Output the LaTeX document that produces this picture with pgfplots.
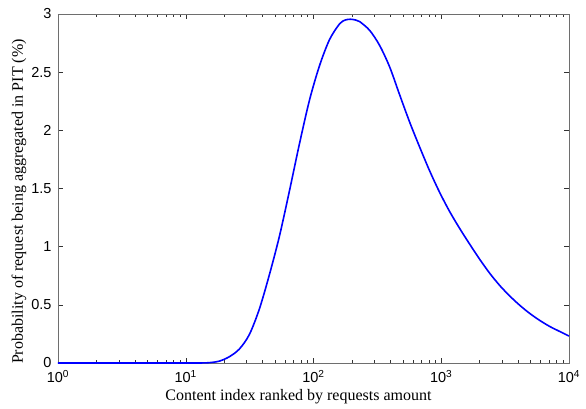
\documentclass[border=0pt]{standalone}
\usepackage{fontspec}
\setmainfont{Liberation Serif}
\newfontfamily\ticksans{Liberation Sans}
\usepackage{pgfplots}
\pgfplotsset{compat=1.18}
\definecolor{boxgray}{RGB}{110,110,110}
\begin{document}
\begin{tikzpicture}
\begin{axis}[
  at={(0,0)}, anchor=south west,
  scale only axis,
  width=511pt, height=349pt,
  xmode=log,
  xmin=1, xmax=10000,
  ymin=0, ymax=3,
  ytick={0,0.5,1,1.5,2,2.5,3},
  yticklabels={0,0.5,1,1.5,2,2.5,3},
  xtick={1,10,100,1000,10000},
  xticklabels={10\textsuperscript{0},10\textsuperscript{1},10\textsuperscript{2},10\textsuperscript{3},10\textsuperscript{4}},
  tick align=inside,
  major tick length=5pt,
  minor tick length=3pt,
  axis line style={boxgray, line width=0.9pt},
  every tick/.style={black!80, line width=0.5pt},
  tick label style={font=\ticksans\fontsize{14.5}{14.5}\selectfont, black},
  xticklabel style={yshift=-3.5pt},
  yticklabel style={xshift=-3pt},
  label style={font=\fontsize{16}{18}\selectfont},
  xlabel={Content index ranked by requests amount},
  ylabel={Probability of request being aggregated in PIT (\%)},
  xlabel style={yshift=0pt, xshift=-15pt},
  ylabel style={yshift=-2pt, xshift=-13pt},
  clip=true,
]
% probability curve over the content rank
\addplot[blue, line width=1.6pt, smooth] coordinates {
  (1,0) (4,0) (10,0) (12.76,0) (15.29,0.003) (18.32,0.016)
  (21.94,0.054) (26.28,0.12) (31.48,0.245) (37.72,0.465) (45.18,0.76)
  (54.12,1.09) (64.84,1.48) (77.67,1.885) (93.04,2.26) (111.4,2.555)
  (133.5,2.78) (159.9,2.915) (177,2.948) (195.1,2.955) (214,2.948)
  (229.5,2.935) (274.9,2.86) (329.3,2.73) (394.6,2.545) (472.6,2.305)
  (566.2,2.07) (678.3,1.855) (812.5,1.65) (973.2,1.465) (1166,1.30)
  (1397,1.155) (1673,1.02) (2004,0.89) (2401,0.77) (2876,0.665)
  (3445,0.575) (4127,0.495) (4944,0.425) (5923,0.365) (7096,0.313)
  (8500,0.27) (10000,0.232)
};
\end{axis}
\pgfresetboundingbox
\path[use as bounding box] (-58pt,-45pt) rectangle (528pt,363pt);
\end{tikzpicture}
\end{document}
